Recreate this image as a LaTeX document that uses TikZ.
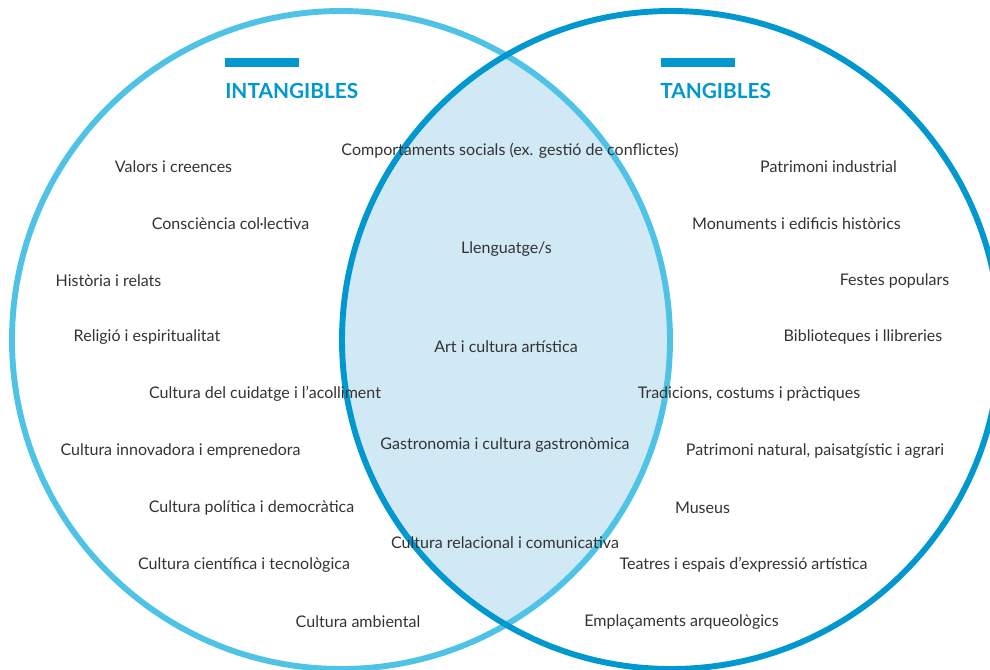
\documentclass[tikz,border=0pt]{standalone}
\usepackage{fontspec}
\setmainfont{Lato}
\definecolor{lightcirc}{HTML}{4EC3E6}
\definecolor{darkcirc}{HTML}{0098CF}
\definecolor{lensfill}{HTML}{D1E8F5}
\definecolor{txtgray}{HTML}{333333}
\tikzset{item/.style={text=txtgray, font=\fontsize{11.4}{13}\selectfont, inner sep=0pt},
  heading/.style={text=darkcirc, font=\fontsize{14.8}{17}\selectfont\bfseries, inner sep=0pt, anchor=west}}

\begin{document}
\begin{tikzpicture}[x=0.025cm, y=-0.025cm]
    \useasboundingbox (0,0) rectangle (990,669);
    \begin{scope}
        \clip (341,340) circle [radius=329];
        \fill[lensfill] (671,340) circle [radius=329];
    \end{scope}
    \draw[lightcirc, line width=4.2] (341,340) circle [radius=329];
    \draw[darkcirc, line width=4.2] (671,340) circle [radius=329];

    \draw[darkcirc, line width=7] (225,62.5) -- (299,62.5);
    \draw[darkcirc, line width=7] (661,62.5) -- (735,62.5);
    \node[heading] (intang) at (225,91) {INTANGIBLES};
    \node[heading] (tang) at (660,91) {TANGIBLES};

    \node[item] (valors) at (173.5,167) {Valors i creences};
    \node[item] (conscien) at (230.5,224) {Consciència col·lectiva};
    \node[item] (historia) at (108.5,281) {Història i relats};
    \node[item] (religio) at (147,337) {Religió i espiritualitat};
    \node[item] (cuidatge) at (265,394) {Cultura del cuidatge i l’acolliment};
    \node[item] (innov) at (180.5,451) {Cultura innovadora i emprenedora};
    \node[item] (politica) at (251.5,508) {Cultura política i democràtica};
    \node[item] (cientif) at (244,565) {Cultura científica i tecnològica};
    \node[item] (ambient) at (358,622) {Cultura ambiental};

    \node[item] (comport) at (510,151) {Comportaments socials (ex. gestió de conflictes)};
    \node[item] (llengua) at (506.5,249) {Llenguatge/s};
    \node[item] (art) at (506,347) {Art i cultura artística};
    \node[item] (gastro) at (505,445) {Gastronomia i cultura gastronòmica};
    \node[item] (relacio) at (505,543) {Cultura relacional i comunicativa};

    \node[item] (indust) at (828.5,167) {Patrimoni industrial};
    \node[item] (monum) at (796.5,224) {Monuments i edificis històrics};
    \node[item] (festes) at (894.5,281) {Festes populars};
    \node[item] (biblio) at (863,337) {Biblioteques i llibreries};
    \node[item] (tradic) at (749,394) {Tradicions, costums i pràctiques};
    \node[item] (natural) at (815,451) {Patrimoni natural, paisatgístic i agrari};
    \node[item] (museus) at (702.5,508) {Museus};
    \node[item] (teatres) at (743.5,565) {Teatres i espais d’expressió artística};
    \node[item] (arqueo) at (681.5,622) {Emplaçaments arqueològics};
\end{tikzpicture}
\end{document}
